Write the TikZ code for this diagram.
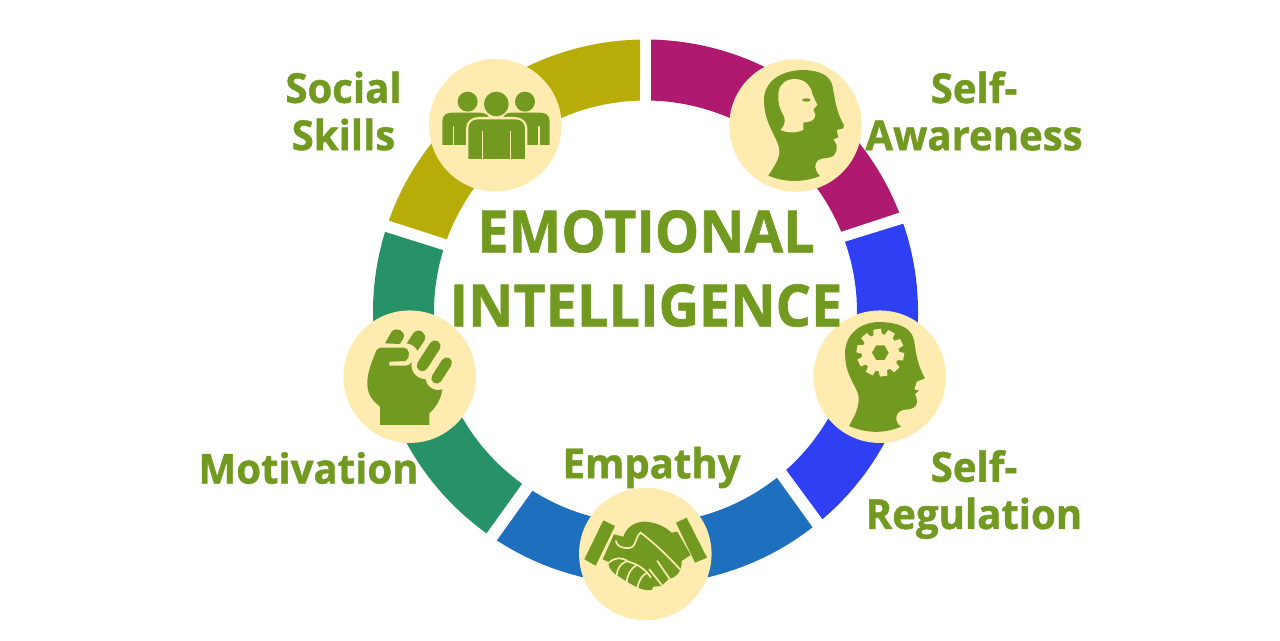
\documentclass[tikz,border=0pt]{standalone}
\usepackage{fontspec}
\setmainfont{Open Sans}[BoldFeatures={FakeBold=1.1}]
\definecolor{olive}{RGB}{114,154,32}
\definecolor{cream}{RGB}{254,235,176}
\definecolor{magentaseg}{RGB}{175,26,112}
\definecolor{blueseg}{RGB}{46,63,244}
\definecolor{darkblueseg}{RGB}{30,111,190}
\definecolor{greenseg}{RGB}{39,146,104}
\definecolor{goldseg}{RGB}{184,172,8}
\tikzset{every picture/.style={line width=0.75pt}}
\tikzset{
  badge/.style={circle,fill=cream,inner sep=0pt,minimum size=132.5*0.75pt},
  iconfill/.style={fill=olive},
  iconcut/.style={draw=cream,line width=1.25pt,line cap=round},
  fingerline/.style={draw=olive,line cap=round},
  labeltext/.style={text=olive,inner sep=0.75pt,align=center,xscale=0.97,font=\fontsize{31}{35.4}\selectfont\bfseries},
  titletext/.style={text=olive,inner sep=0.75pt,align=center,font=\fontsize{43.6}{55.5}\selectfont\bfseries}
}

\begin{document}
\begin{tikzpicture}[x=0.75pt,y=0.75pt,yscale=-1,xscale=1]

\fill [white] (0,0) rectangle (1280,640);
\useasboundingbox (0,0) rectangle (1280,640);

%Ring segments
\begin{scope}[shift={(645.5,312)},yscale=-1]
\fill [magentaseg] (88.84:272.5) arc (88.84:21.4:272.5) -- (22.3:211.5) arc (22.3:88.5:211.5) -- cycle;
\fill [blueseg] (18.9:272.5) arc (18.9:-49.5:272.5) -- (-48.3:211.5) arc (-48.3:19.4:211.5) -- cycle;
\fill [darkblueseg] (-52.2:272.5) arc (-52.2:-123.05:272.5) -- (-122.3:211.5) arc (-122.3:-51.6:211.5) -- cycle;
\fill [greenseg] (-125.7:272.5) arc (-125.7:-197.1:272.5) -- (-197:211.5) arc (-197:-125.7:211.5) -- cycle;
\fill [goldseg] (160.4:272.5) arc (160.4:91.15:272.5) -- (91.5:211.5) arc (91.5:159.9:211.5) -- cycle;
\end{scope}

%Badges
\node (awareness) [badge] at (795.5,125.5) {};
\node (regulation) [badge] at (879.7,376.7) {};
\node (empathy) [badge] at (645.3,554) {};
\node (motivation) [badge] at (409.7,376.7) {};
\node (social) [badge] at (495.3,125.3) {};

%Icon: two faces
\begin{scope}[shift={(720,50)},scale=0.3333]
\fill [iconfill] (145,377) .. controls (165,345) and (180,325) .. (178,300) .. controls (176,265) and (132,225) .. (132,150) .. controls (132,90) and (190,60) .. (250,60) .. controls (300,62) and (330,75) .. (338,110) .. controls (345,150) and (350,190) .. (372,225) -- (370,235) -- (350,240) -- (355,262) -- (340,268) -- (350,285) .. controls (352,315) and (340,323) .. (310,325) .. controls (280,328) and (280,360) .. (300,378) .. controls (250,398) and (195,398) .. (145,377) -- cycle;
\fill [cream] (182,240) .. controls (195,225) and (198,210) .. (190,195) .. controls (178,175) and (172,150) .. (176,125) .. controls (180,100) and (200,87) .. (225,87) .. controls (255,88) and (272,105) .. (278,135) -- (292,165) -- (280,178) -- (286,195) .. controls (285,212) and (270,216) .. (250,218) -- (250,240) .. controls (225,250) and (205,250) .. (182,240) -- cycle;
\fill [iconfill] (259,150) ellipse (13 and 5);
\end{scope}

%Icon: head with gear
\begin{scope}[shift={(805,300)},scale=0.3333]
\fill [iconfill] (132,378) .. controls (150,345) and (165,320) .. (160,285) .. controls (155,260) and (120,225) .. (120,160) .. controls (120,100) and (170,65) .. (225,66) .. controls (285,68) and (322,85) .. (328,125) .. controls (333,165) and (340,200) .. (360,235) -- (335,245) -- (328,268) -- (342,272) -- (330,282) .. controls (345,315) and (330,328) .. (300,329) .. controls (270,332) and (265,365) .. (288,380) .. controls (235,402) and (185,400) .. (132,378) -- cycle;
\begin{scope}[shift={(226,158)}]
\fill [cream] (0,0) circle (56);
\foreach \a in {82,46,10,-26,-62,-98,-134,-170,154,118}
  \fill [cream] ({\a-14}:54) -- ({\a-9}:72) -- ({\a+9}:72) -- ({\a+14}:54) -- cycle;
\fill [iconfill] (0:25) -- (60:25) -- (120:25) -- (180:25) -- (240:25) -- (300:25) -- cycle;
\end{scope}
\end{scope}

%Icon: handshake
\begin{scope}[shift={(570,480)},scale=0.3333]
\fill [iconfill] (100,121) -- (135,138) -- (77,257) -- (43,238) -- cycle;
\fill [iconfill] (350,113) -- (411,233) -- (375,248) -- (318,128) -- cycle;
\fill [iconfill] (98,238) -- (132,163) -- (160,170) .. controls (170,140) and (195,125) .. (225,125) .. controls (260,127) and (285,140) .. (305,158) -- (322,155) -- (362,225) -- (335,243) .. controls (335,270) and (325,290) .. (295,298) -- (275,318) -- (250,320) -- (245,330) -- (228,330) .. controls (205,328) and (170,305) .. (135,282) .. controls (120,270) and (112,255) .. (118,247) -- cycle;
\draw [iconcut] (138,183) .. controls (140,205) and (180,210) .. (190,198) .. controls (200,185) and (200,165) .. (212,158) .. controls (260,195) and (300,235) .. (330,268);
\draw [iconcut] (262,243) -- (300,298);
\draw [iconcut] (238,268) -- (276,316);
\draw [iconcut] (118,247) .. controls (135,232) and (155,230) .. (175,245) .. controls (200,252) and (225,265) .. (242,292);
\draw [iconcut] (140,285) .. controls (142,265) and (152,250) .. (168,245);
\draw [iconcut] (170,305) .. controls (172,285) and (182,265) .. (200,255);
\draw [iconcut] (202,325) .. controls (205,305) and (215,285) .. (232,278);
\end{scope}

%Icon: fist
\begin{scope}[shift={(335,300)},scale=0.3333]
\fill [iconfill] (135,375) -- (135,320) .. controls (105,295) and (97,280) .. (97,245) .. controls (98,215) and (112,180) .. (125,150) -- (135,143) -- (205,143) .. controls (225,145) and (228,170) .. (212,183) -- (163,185) -- (163,197) -- (205,197) .. controls (218,197) and (225,195) .. (230,187) .. controls (225,215) and (245,237) .. (272,238) .. controls (275,262) and (300,275) .. (322,268) .. controls (318,300) and (300,325) .. (283,340) -- (283,375) -- cycle;
\fill [iconfill] (150,130) -- (170,95) .. controls (185,78) and (215,95) .. (205,115) -- (195,132) -- cycle;
\fill [iconfill] (215,130) -- (235,100) .. controls (250,80) and (280,100) .. (268,122) -- (248,152) .. controls (240,140) and (230,132) .. (215,130) -- cycle;
\draw [fingerline,line width=8.5pt] (262,197) -- (300,138);
\draw [fingerline,line width=8pt] (305,235) -- (335,188);
\end{scope}

%Icon: three people
\begin{scope}[shift={(420,50)},scale=0.3333]
\fill [iconfill] (143,155) circle (30);
\fill [iconfill] (315,155) circle (30);
\fill [iconfill] (67,285) -- (67,215) .. controls (67,195) and (80,188) .. (95,188) -- (180,188) .. controls (195,188) and (205,195) .. (208,205) -- (150,285) -- cycle;
\fill [iconfill] (389,285) -- (389,215) .. controls (389,195) and (376,188) .. (361,188) -- (275,188) .. controls (260,188) and (252,195) .. (248,205) -- (310,285) -- cycle;
\draw [iconcut] (100,230) -- (100,285);
\draw [iconcut] (358,230) -- (358,285);
\fill [cream] (138,332) -- (138,235) .. controls (138,215) and (155,201) .. (175,201) -- (285,201) .. controls (305,201) and (322,215) .. (322,235) -- (322,332) -- cycle;
\fill [iconfill] (229,162) circle (37);
\fill [iconfill] (145,327) -- (145,235) .. controls (145,218) and (158,208) .. (175,208) -- (285,208) .. controls (302,208) and (315,218) .. (315,235) -- (315,327) -- cycle;
\draw [iconcut] (187,245) -- (187,327);
\draw [iconcut] (272,245) -- (272,327);
\end{scope}

% Text Node
\draw (646,268.5) node (title) [titletext] {\scalebox{0.96}[1]{EMOTIONAL}\\\scalebox{0.96}[1]{INTELLIGENCE}};
% Text Node
\draw (343.5,111) node (sociallabel) [labeltext] {Social\\Skills};
% Text Node
\draw (974,111) node (awarelabel) [labeltext] {Self-\\Awareness};
% Text Node
\draw (974,494.5) node (regulationlabel) [labeltext] {Self-\\Regulation};
% Text Node
\draw (308.5,468) node (motivationlabel) [labeltext] {Motivation};
% Text Node
\draw (651.5,467.5) node (empathylabel) [labeltext] {Empathy};
\end{tikzpicture}
\end{document}
